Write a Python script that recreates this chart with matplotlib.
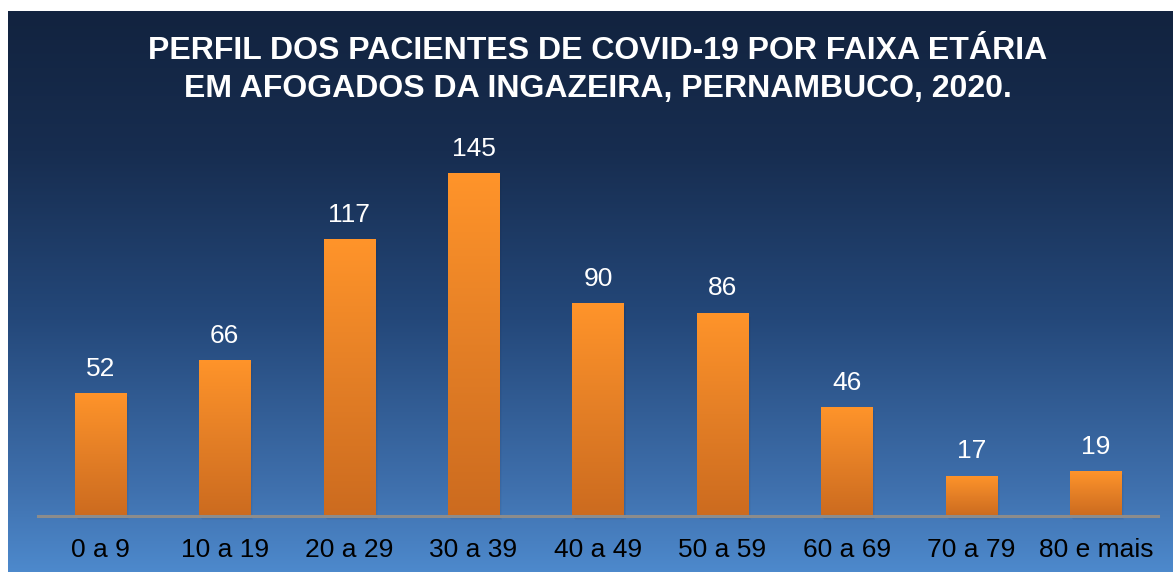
import matplotlib.pyplot as plt
import numpy as np
from matplotlib.colors import LinearSegmentedColormap

plt.rcParams['font.family'] = ['Liberation Sans', 'DejaVu Sans']

faixas = ['0 a 9', '10 a 19', '20 a 29', '30 a 39', '40 a 49',
          '50 a 59', '60 a 69', '70 a 79', '80 e mais']
pacientes = [52, 66, 117, 145, 90, 86, 46, 17, 19]
titulo = ('PERFIL DOS PACIENTES DE COVID-19 POR FAIXA ETÁRIA\n'
          'EM AFOGADOS DA INGAZEIRA, PERNAMBUCO, 2020.')

W, H = 1173, 572
fig = plt.figure(figsize=(W / 100, H / 100), dpi=100)
fig.patch.set_facecolor('white')

# background gradient panel (white margin at top and left)
bg = fig.add_axes([8 / W, 0, (W - 8) / W, (H - 11) / H])
bg.set_axis_off()
bg_cmap = LinearSegmentedColormap.from_list('bg', [
    (0.0, '#12233f'), (0.25, '#172d50'), (0.55, '#24487a'),
    (0.85, '#3f70ad'), (1.0, '#4d89cc')])
grad = np.linspace(0, 1, 256).reshape(-1, 1)
bg.imshow(grad, aspect='auto', cmap=bg_cmap, extent=[0, 1, 1, 0])
bg.set_xlim(0, 1)
bg.set_ylim(1, 0)

fig.text(598 / W, 1 - 70 / H, titulo, ha='center', va='center',
         color='white', fontsize=23, fontweight='bold', linespacing=1.38)

# plot axes: x from 38 to 1158 px, baseline at 516 px
base_px = 516
px_per_unit = (516 - 173) / 145.0
top_px = 120
ymax = (base_px - top_px) / px_per_unit
ax = fig.add_axes([38 / W, 1 - base_px / H, 1120 / W, (base_px - top_px) / H])
ax.set_facecolor('none')
ax.set_xlim(-0.5, len(faixas) - 0.5)
ax.set_ylim(0, ymax)

x = np.arange(len(faixas))
bar_w = 0.41

# soft shadow
for i, v in zip(x, pacientes):
    for k, a in enumerate([0.07, 0.05, 0.03]):
        d = 0.008 * (k + 1)
        ax.bar(i + d, v, width=bar_w, bottom=-0.8 - k * 0.5,
               color='#0a1830', alpha=a, linewidth=0, zorder=1, clip_on=False)

bars = ax.bar(x, pacientes, width=bar_w, color='#f08a28', linewidth=0, zorder=2)
bar_cmap = LinearSegmentedColormap.from_list('bar', ['#cc6b1f', '#e47f26', '#ff942a'])
for b in bars:
    bx, by = b.get_x(), b.get_y()
    bw, bh = b.get_width(), b.get_height()
    img = ax.imshow(np.linspace(0, 1, 128).reshape(-1, 1), cmap=bar_cmap,
                    aspect='auto', extent=[bx, bx + bw, by, by + bh],
                    origin='lower', zorder=3)
    img.set_clip_path(b)

for i, v in zip(x, pacientes):
    ax.text(i, v + 10.3, str(v), ha='center', va='center', color='white',
            fontsize=19, zorder=4)

ax.axhline(0, color='#8c8c8c', linewidth=2.2, zorder=5, clip_on=False)
for s in ax.spines.values():
    s.set_visible(False)
ax.set_yticks([])
ax.set_xticks(x)
ax.set_xticklabels(faixas, fontsize=19, color='black')
ax.tick_params(axis='x', length=0, pad=16)

fig.savefig('out.png', dpi=100)
